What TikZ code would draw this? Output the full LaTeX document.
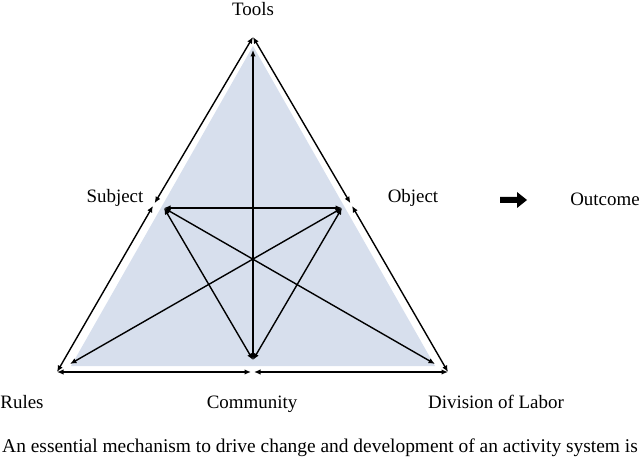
\documentclass[tikz,border=0pt]{standalone}
\usepackage{fontspec}
\setmainfont{Liberation Serif}
\usetikzlibrary{arrows.meta}
\definecolor{shadeblue}{RGB}{215,223,237}
\tikzset{
  lbl/.style={inner sep=0pt, anchor=base, font=\fontsize{19}{21}\selectfont},
  conn/.style={line width=1.4bp, {Latex[length=6.5bp,width=5.5bp]}-{Latex[length=6.5bp,width=5.5bp]}},
}
\begin{document}
\begin{tikzpicture}[x=1bp,y=-1bp]
\useasboundingbox (0,0) rectangle (640,459);
% shaded inner triangle
\fill[shadeblue] (253,46) -- (71,366) -- (435,366) -- cycle;
% outer points
\coordinate (A) at (253,37);
\coordinate (BL) at (57,372);
\coordinate (BR) at (448,372);
\coordinate (ML1) at (154.6,203.2);
\coordinate (ML2) at (153.0,205.9);
\coordinate (MR1) at (350.4,203.2);
\coordinate (MR2) at (352.0,205.9);
\coordinate (MB1) at (251.0,372);
\coordinate (MB2) at (254.0,372);
% inner points
\coordinate (T) at (253,50);
\coordinate (S) at (164,208);
\coordinate (O) at (342,208);
\coordinate (C) at (253,360);
\coordinate (IR) at (70,364);
\coordinate (ID) at (435,364);
% outer arrows
\draw[conn] (A) -- (ML1);
\draw[conn] (ML2) -- (BL);
\draw[conn] (BL) -- (MB1);
\draw[conn] (MB2) -- (BR);
\draw[conn] (BR) -- (MR2);
\draw[conn] (MR1) -- (A);
% inner arrows
\draw[conn] (S) -- (O);
\draw[conn] (T) -- (C);
\draw[conn] (S) -- (C);
\draw[conn] (O) -- (C);
\draw[conn] (S) -- (ID);
\draw[conn] (O) -- (IR);
% labels
\node[lbl] (tools) at (253,16) {Tools};
\node[lbl] (subject) at (115,203) {Subject};
\node[lbl] (object) at (413,203) {Object};
\node[lbl] (outcome) at (605,206) {Outcome};
\node[lbl] (rules) at (22,408) {Rules};
\node[lbl] (community) at (252,408) {Community};
\node[lbl] (division) at (496,408) {Division of Labor};
\node[lbl, font=\fontsize{19.5}{21}\selectfont] (caption) at (320,452) {An essential mechanism to drive change and development of an activity system is};
% block arrow
\fill (500,197) -- (517,197) -- (517,192) -- (527,200) -- (517,208) -- (517,203) -- (500,203) -- cycle;
\end{tikzpicture}
\end{document}
